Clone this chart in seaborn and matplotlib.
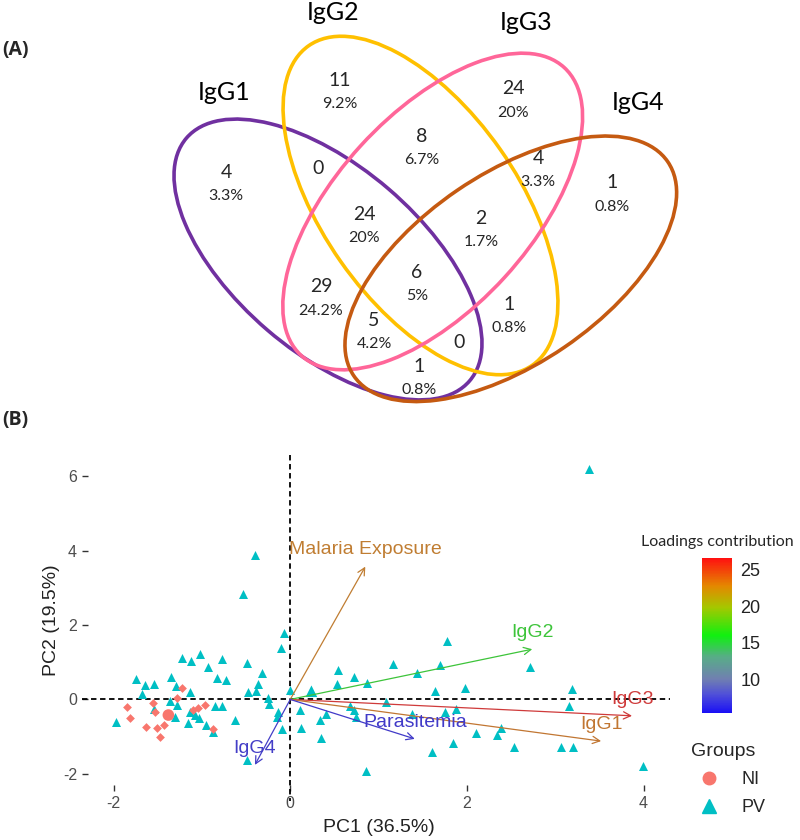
import matplotlib
matplotlib.use("Agg")
import matplotlib.pyplot as plt
import numpy as np
import pandas as pd
import seaborn as sns
from matplotlib.patches import Ellipse
from matplotlib.colors import LinearSegmentedColormap, Normalize
from matplotlib.lines import Line2D
from matplotlib.cm import ScalarMappable

# ---- (A) Venn: IgG subclass recognition ----
venn_sets = ['IgG1', 'IgG2', 'IgG3', 'IgG4']
venn_colors = ['#7030A0', '#FFC000', '#FF6699', '#C55A11']
region_counts = [4, 11, 0, 24, 29, 5, 8, 24, 4, 1, 2, 6, 1, 0, 1]
region_pcts = ['3.3%', '9.2%', '', '20%', '24.2%', '4.2%', '6.7%', '20%',
               '3.3%', '0.8%', '1.7%', '5%', '0.8%', '', '0.8%']

# ---- (B) PCA biplot ----
ni_pc1 = [-1.23, -1.28, -1.85, -1.81, -1.63, -1.55, -1.53, -1.51, -1.43, -1.48,
          -1.10, -1.05, -0.97, -0.88]
ni_pc2 = [0.32, 0.03, -0.21, -0.51, -0.75, -0.10, -0.35, -0.78, -0.69, -1.00,
          -0.28, -0.22, -0.15, -0.80]
pv_pc1 = [-0.40, -0.54, -0.07, -0.10, -1.23, -1.12, -1.02, -0.77, -0.49, -0.93,
          -0.32, -0.83, -0.73, -1.35, -1.75, -1.64, -1.54, -1.29, -0.37, -0.48,
          -0.39, 0.00, -1.68, -1.13, -1.36, -0.25, -0.85, -0.77, -1.28, -0.24,
          -0.14, -0.15, -1.14, -1.08, -1.03, -1.31, -1.97, -1.16, -0.63, -0.95,
          -0.87, -0.09, -0.49, 0.11, 0.12, 0.34, 0.35, 0.40, 0.54, 0.53,
          0.72, 0.87, 1.16, 0.68, 0.72, 0.75, 0.86, 1.08, 1.43, 1.70,
          1.78, 1.64, 1.98, 1.38, 1.75, 1.88, 2.10, 1.84, 1.61, 2.71,
          3.19, 3.16, 2.39, 2.34, 2.53, 3.07, 3.20, 3.99, 3.38, -1.54]
pv_pc2 = [3.88, 2.83, 1.78, 1.38, 1.11, 1.02, 1.22, 1.08, 0.99, 0.88,
          0.70, 0.57, 0.51, 0.60, 0.55, 0.39, 0.41, 0.37, 0.41, 0.21,
          0.23, 0.25, 0.14, 0.21, -0.04, 0.05, -0.17, -0.17, -0.15, -0.13,
          -0.34, -0.46, -0.33, -0.42, -0.49, -0.46, -0.60, -0.64, -0.55, -0.69,
          -0.87, -0.79, -1.63, -0.28, -0.78, -0.55, -1.04, -0.39, 0.79, 0.41,
          0.61, 0.45, 0.95, -0.17, -0.28, -0.46, -1.92, -0.06, 0.70, 0.93,
          1.58, 0.23, 0.30, -0.40, -0.33, -0.26, -0.91, -1.18, -1.40, 0.88,
          0.27, -0.19, -0.78, -0.95, -1.27, -1.27, -1.27, -1.78, 6.19, -0.25]
group_names = ['NI', 'PV']
centroid_pc1 = [-1.38, 0.24]
centroid_pc2 = [-0.42, 0.22]

var_names = ['Malaria Exposure', 'IgG2', 'IgG3', 'IgG1', 'Parasitemia', 'IgG4']
var_pc1 = [0.85, 2.74, 3.87, 3.52, 1.41, -0.40]
var_pc2 = [3.57, 1.35, -0.44, -1.12, -1.06, -1.76]
var_contrib = [23.2, 16.1, 26.6, 23.5, 5.4, 5.7]

group_palette = {'NI': '#F8766D', 'PV': '#00BFC4'}
contrib_cmap = LinearSegmentedColormap.from_list(
    'contrib', [(0.0, '#1A10F5'), (0.12, '#5050D8'), (0.22, '#7080B0'),
                (0.36, '#58AC88'), (0.5, '#10F010'), (0.68, '#A4C800'),
                (0.82, '#E48800'), (1.0, '#FF1010')])


def muted(rgba, k=0.38, grey=0.5):
    # thin anti-aliased segments read a little duller than the colour bar
    return tuple((1 - k) * c + k * grey for c in rgba[:3])


sns.set_theme(style="white")
plt.rcParams['font.family'] = ['Liberation Sans', 'DejaVu Sans']
plt.rcParams['axes.unicode_minus'] = False

fig = plt.figure(figsize=(8, 8.4), dpi=100)

# ===== panel A =====
ax_a = fig.add_axes([0, 0.5, 1, 0.5])
ax_a.set_xlim(0, 800)
ax_a.set_ylim(420, 0)
ax_a.axis('off')

ell_center = [(328, 259.5), (420.5, 205.5), (432.7, 211.5), (510.8, 268.8)]
ell_size = [(373, 186), (390, 195), (390, 195), (380, 190)]
ell_angle = [40.6, 55, -47.6, -34.3]
for c, (w, h), ang, col in zip(ell_center, ell_size, ell_angle, venn_colors):
    ax_a.add_patch(Ellipse(c, w, h, angle=ang, fill=False, lw=2.6, ec=col))

title_pos = [(224, 92), (333, 12), (526, 22), (638, 103)]
for name, (tx, ty) in zip(venn_sets, title_pos):
    ax_a.text(tx, ty, name, ha='center', va='center', fontsize=18,
              family=['Lato', 'DejaVu Sans'], color='black')

region_pos = [(226, 172), (340, 80), (318, 168), (364, 214), (321, 287),
              (374, 320), (422, 136), (513, 89), (538, 158), (612, 183),
              (481, 218), (417, 272), (509, 304), (459, 342), (419, 366)]
for n, p, (rx, ry) in zip(region_counts, region_pcts, region_pos):
    ax_a.text(rx, ry, str(n), ha='center', va='center', fontsize=14,
              family=['Lato', 'DejaVu Sans'])
    if p:
        ax_a.text(rx, ry + 24, p, ha='center', va='center', fontsize=11.5,
                  family=['Lato', 'DejaVu Sans'])

fig.text(2 / 800, 1 - 50 / 840, '(A)', fontsize=14, fontweight='bold',
         family=['Open Sans', 'DejaVu Sans'], va='center')
fig.text(2 / 800, 1 - 420 / 840, '(B)', fontsize=14, fontweight='bold',
         family=['Open Sans', 'DejaVu Sans'], va='center')

# ===== panel B =====
ax = fig.add_axes([88 / 800, 1 - 785 / 840, 582 / 800, 330 / 840])
ni_df = pd.DataFrame({'PC1': ni_pc1, 'PC2': ni_pc2, 'Groups': 'NI'})
pv_df = pd.DataFrame({'PC1': pv_pc1, 'PC2': pv_pc2, 'Groups': 'PV'})
cen_df = pd.DataFrame({'PC1': centroid_pc1, 'PC2': centroid_pc2, 'Groups': group_names})

ax.plot([-2.36, 4.30], [0, 0], ls=(0, (3, 2)), color='black', lw=1.3, clip_on=False, zorder=1)
ax.plot([0, 0], [6.57, -2.72], ls=(0, (3, 2)), color='black', lw=1.3, clip_on=False, zorder=1)

sns.scatterplot(data=pv_df, x='PC1', y='PC2', color=group_palette['PV'],
                marker='^', s=42, linewidth=0, ax=ax, zorder=2)
sns.scatterplot(data=ni_df, x='PC1', y='PC2', color=group_palette['NI'],
                marker='D', s=20, linewidth=0, ax=ax, zorder=3)
sns.scatterplot(data=cen_df, x='PC1', y='PC2', hue='Groups', style='Groups',
                palette=group_palette, markers={'NI': 'o', 'PV': '^'},
                s=70, linewidth=0, legend=False, ax=ax, zorder=3)

norm = Normalize(vmin=min(var_contrib), vmax=max(var_contrib))
for name, vx, vy, ct in zip(var_names, var_pc1, var_pc2, var_contrib):
    col = muted(contrib_cmap(norm(ct)))
    ax.annotate('', xy=(vx, vy), xytext=(0, 0),
                arrowprops=dict(arrowstyle='->', color=col, lw=0.9,
                                mutation_scale=13, shrinkA=0, shrinkB=0), zorder=4)
    ax.annotate(name, xy=(vx, vy), xytext=(0, 12), textcoords='offset points',
                ha='center', va='center', color=col, fontsize=14, zorder=5)

ax.set_xlim(-2.29, 4.30)
ax.set_ylim(-2.30, 6.57)
ax.set_xticks([-2, 0, 2, 4])
ax.set_yticks([-2, 0, 2, 4, 6])
ax.tick_params(bottom=True, left=True, length=4, width=1, color='#333333',
               labelsize=11.5, labelcolor='#4D4D4D', pad=4)
sns.despine(ax=ax, left=True, bottom=True)
ax.set_xlabel('PC1 (36.5%)', fontsize=14, color='#222222', labelpad=6)
ax.set_ylabel('PC2 (19.5%)', fontsize=14, color='#222222', labelpad=2)

# colour bar legend
cax = fig.add_axes([702 / 800, 1 - 713 / 840, 30 / 800, 155 / 840])
cb = fig.colorbar(ScalarMappable(norm=norm, cmap=contrib_cmap), cax=cax)
cb.outline.set_visible(False)
cb.set_ticks([10, 15, 20, 25])
cax.tick_params(left=True, right=True, direction='in', length=5, width=1,
                color='white', labelleft=False, labelright=True,
                labelsize=13, labelcolor='#222222', pad=6)
fig.text(641 / 800, 1 - 542 / 840, 'Loadings contribution', fontsize=11.5,
         family=['Lato', 'DejaVu Sans'], va='center')

handles = [Line2D([], [], marker='o', ls='', color=group_palette['NI'], markersize=9),
           Line2D([], [], marker='^', ls='', color=group_palette['PV'], markersize=10)]
leg = fig.legend(handles, group_names, title='Groups', loc='upper left',
                 bbox_to_anchor=(675 / 800, 1 - 727 / 840), frameon=False,
                 fontsize=13, title_fontsize=14, handletextpad=0.8,
                 labelspacing=0.6)
leg._legend_box.align = 'left'

fig.savefig('out.png', dpi=100)
